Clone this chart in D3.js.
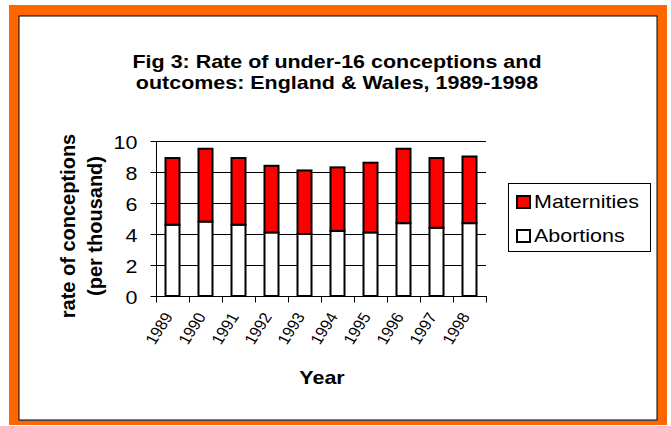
<!DOCTYPE html>
<html>
<head>
<meta charset="utf-8">
<script src="https://cdn.jsdelivr.net/npm/d3@7"></script>
<style>
  html, body { margin: 0; padding: 0; background: #fff; }
  svg { display: block; }
  text { font-family: Arial, "Liberation Sans", sans-serif; fill: #000; }
</style>
</head>
<body>
<svg id="chart" width="671" height="426"></svg>
<script>
// Under-16 conception rates (per thousand), England & Wales
const years = ["1989", "1990", "1991", "1992", "1993", "1994", "1995", "1996", "1997", "1998"];
const abortions   = [4.6, 4.8, 4.6, 4.1, 4.0, 4.2, 4.1, 4.7, 4.4, 4.7];
const maternities = [4.3, 4.7, 4.3, 4.3, 4.1, 4.1, 4.5, 4.8, 4.5, 4.3];
const yTicks = [0, 2, 4, 6, 8, 10];
const seriesNames = ["Maternities", "Abortions"];
const seriesColors = { Maternities: "#FF0000", Abortions: "#FFFFFF" };

// Text in this figure is set slightly wide
const WIDE = 1.13;

const svg = d3.select("#chart");

// Frame: orange border around a white panel
svg.append("rect").attr("x", 9).attr("y", 5).attr("width", 658).attr("height", 420)
  .attr("fill", "#FF6600");
svg.append("rect").attr("x", 20).attr("y", 17).attr("width", 638).attr("height", 404)
  .attr("fill", "#888");
svg.append("rect").attr("x", 19).attr("y", 16).attr("width", 638).attr("height", 404)
  .attr("fill", "#fff").attr("stroke", "#000").attr("stroke-width", 1);

// Title
const titleLines = ["Fig 3: Rate of under-16 conceptions and", "outcomes: England & Wales, 1989-1998"];
svg.append("g").selectAll("text").data(titleLines).join("text")
  .attr("transform", (d, i) => `translate(337,${68 + i * 21}) scale(${WIDE},1)`)
  .attr("text-anchor", "middle").attr("font-size", 19).attr("font-weight", "bold")
  .text(d => d);

// Plot area
const plot = { left: 156, right: 486, top: 141, bottom: 296 };

const x = d3.scaleBand().domain(years).range([plot.left, plot.right]).paddingInner(0).paddingOuter(0);
const y = d3.scaleLinear().domain([0, 10]).range([plot.bottom, plot.top]);

// Horizontal gridlines
svg.append("g").selectAll("line").data(yTicks.filter(t => t > 0)).join("line")
  .attr("x1", plot.left).attr("x2", plot.right)
  .attr("y1", d => y(d) + 0.5).attr("y2", d => y(d) + 0.5)
  .attr("stroke", "#000").attr("stroke-width", 1);

// Stacked bars
const stackData = years.map((yr, i) => ({ year: yr, Abortions: abortions[i], Maternities: maternities[i] }));
const stacked = d3.stack().keys(["Abortions", "Maternities"])(stackData);
const barW = 14;

svg.append("g").selectAll("g").data(stacked).join("g")
  .attr("fill", d => seriesColors[d.key])
  .selectAll("rect").data(d => d).join("rect")
  .attr("x", d => x(d.data.year) + (x.bandwidth() - barW) / 2)
  .attr("width", barW)
  .attr("y", d => y(d[1]))
  .attr("height", d => y(d[0]) - y(d[1]))
  .attr("stroke", "#000").attr("stroke-width", 2);

// Y axis
const yAxis = svg.append("g").attr("transform", `translate(${plot.left + 0.5},0)`)
  .call(d3.axisLeft(y).tickValues(yTicks).tickSize(6).tickFormat(d3.format("d")));
yAxis.select(".domain").attr("stroke", "#000").attr("d", `M0,${plot.top}V${plot.bottom}`);
yAxis.selectAll(".tick text")
  .attr("x", null).attr("dy", null)
  .attr("transform", `translate(-19,7) scale(${WIDE},1)`)
  .attr("font-size", 19).attr("font-family", "Arial, 'Liberation Sans', sans-serif")
  .attr("text-anchor", "end");

// X axis with ticks at category boundaries
const xAxisG = svg.append("g").attr("transform", `translate(0,${plot.bottom + 0.5})`);
xAxisG.append("line").attr("x1", plot.left).attr("x2", plot.right + 1).attr("stroke", "#000");
const boundaries = years.map(yr => x(yr)).concat([plot.right]);
xAxisG.selectAll("line.tick").data(boundaries).join("line").attr("class", "tick")
  .attr("x1", d => d + 0.5).attr("x2", d => d + 0.5).attr("y1", 0).attr("y2", 6)
  .attr("stroke", "#000");

// Rotated year labels
xAxisG.selectAll("text").data(years).join("text")
  .attr("font-size", 15)
  .attr("text-anchor", "end")
  .attr("transform", d => `translate(${x(d) + x.bandwidth() / 2 + 1},${20}) scale(${WIDE},1) rotate(-60)`)
  .text(d => d);

// Axis titles
svg.append("text").attr("transform", `translate(322,384) scale(${WIDE},1)`)
  .attr("text-anchor", "middle")
  .attr("font-size", 19).attr("font-weight", "bold").text("Year");

const yTitleLines = ["rate of conceptions", "(per thousand)"];
svg.append("g").selectAll("text").data(yTitleLines).join("text")
  .attr("transform", (d, i) => `translate(${75 + i * 27},226) rotate(-90)`)
  .attr("text-anchor", "middle").attr("font-size", 20).attr("font-weight", "bold")
  .text(d => d);

// Legend
const legend = svg.append("g");
legend.append("rect").attr("x", 508.5).attr("y", 183.5).attr("width", 142).attr("height", 68)
  .attr("fill", "#fff").attr("stroke", "#000").attr("stroke-width", 1);
const items = legend.selectAll("g.item").data(seriesNames).join("g").attr("class", "item")
  .attr("transform", (d, i) => `translate(516,${195 + i * 34})`);
items.append("rect").attr("x", 1).attr("y", 1).attr("width", 13).attr("height", 12)
  .attr("fill", d => seriesColors[d]).attr("stroke", "#000").attr("stroke-width", 2);
items.append("text").attr("transform", `translate(18,13) scale(${WIDE},1)`)
  .attr("font-size", 19).text(d => d);
</script>
</body>
</html>
